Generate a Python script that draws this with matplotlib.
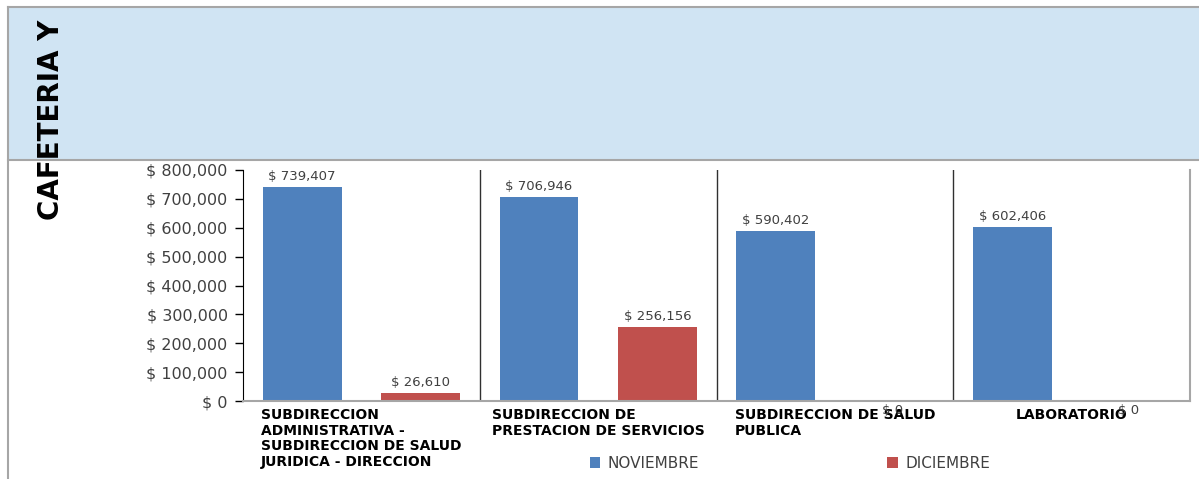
import matplotlib
matplotlib.use('Agg')
import matplotlib.pyplot as plt
from matplotlib.patches import Rectangle, Patch
from matplotlib.lines import Line2D
import numpy as np

categories = ["SUBDIRECCION\nADMINISTRATIVA -\nSUBDIRECCION DE SALUD\nJURIDICA - DIRECCION",
              "SUBDIRECCION DE\nPRESTACION DE SERVICIOS",
              "SUBDIRECCION DE SALUD\nPUBLICA",
              "LABORATORIO"]
noviembre = [739407, 706946, 590402, 602406]
diciembre = [26610, 256156, 0, 0]
series_names = ["NOVIEMBRE", "DICIEMBRE"]
title = "CAFETERIA Y"
yticks = [0, 100000, 200000, 300000, 400000, 500000, 600000, 700000, 800000]

BLUE = '#4F81BD'
RED = '#C0504D'
BAND = '#D0E4F3'
BORDER = '#A6A6A6'
TXT = '#404040'

W, H = 1199, 479
fig = plt.figure(figsize=(W / 100, H / 100), dpi=100)


def fx(px):
    return px / W


def fy(py):
    return 1 - py / H


# light blue band and frame
fig.patches.append(Rectangle((fx(8), fy(160)), fx(1199) - fx(8), fy(7) - fy(160),
                             transform=fig.transFigure, facecolor=BAND,
                             edgecolor='none', zorder=0))
for (x0, y0, x1, y1) in [(8, 7, 1199, 7), (8, 7, 8, 479), (8, 160, 1199, 160)]:
    fig.add_artist(Line2D([fx(x0), fx(x1)], [fy(y0), fy(y1)], transform=fig.transFigure,
                          color=BORDER, lw=1.5, zorder=1))

# vertical title
fig.text(fx(51), fy(220), title, rotation=90, ha='center', va='bottom',
         fontsize=20, fontweight='bold', color='black')

ax = fig.add_axes([fx(243), fy(401), fx(1190) - fx(243), fy(170) - fy(401)])
ax.set_facecolor('none')
x = np.arange(len(categories))
bw = 0.333
b1 = ax.bar(x + 0.25, noviembre, width=bw, color=BLUE, label=series_names[0], zorder=2)
b2 = ax.bar(x + 0.75, diciembre, width=bw, color=RED, label=series_names[1], zorder=2)

ax.set_xlim(0, len(categories))
ax.set_ylim(0, 800000)
ax.set_yticks(yticks)
ax.set_yticklabels([f"$ {v:,.0f}" for v in yticks], fontsize=11.5, color=TXT)
ax.tick_params(axis='y', direction='out', length=6, width=1, color='black', pad=5)

ax.set_xticks(x + 0.5)
ax.set_xticklabels(categories, fontsize=10, fontweight='bold', multialignment='left',
                   va='top', linespacing=1.15)
ax.tick_params(axis='x', length=0, pad=5)

ax.spines['top'].set_visible(False)
ax.spines['left'].set_color('black')
ax.spines['bottom'].set_color(BORDER)
ax.spines['bottom'].set_linewidth(1.5)
ax.spines['right'].set_color(BORDER)
ax.spines['right'].set_linewidth(1.5)

for sep in x[1:]:
    ax.axvline(sep, color='#303030', lw=1, zorder=1)

for bars in (b1, b2):
    for rect in bars:
        v = rect.get_height()
        cx = rect.get_x() + rect.get_width() / 2
        if v == 0:
            ax.annotate(f"$ {v:,.0f}", (cx, 0), xytext=(-2, -10), textcoords='offset pixels',
                        ha='center', va='center', fontsize=9.5, color=TXT, annotation_clip=False)
        else:
            ax.annotate(f"$ {v:,.0f}", (cx, v), xytext=(0, 4), textcoords='offset pixels',
                        ha='center', va='bottom', fontsize=9.5, color=TXT)

handles = [Patch(facecolor=BLUE, label=series_names[0]), Patch(facecolor=RED, label=series_names[1])]
fig.legend(handles=handles, loc='center', bbox_to_anchor=(fx(790), fy(463)), ncol=2,
           frameon=False, fontsize=11, handlelength=0.7, handleheight=0.7,
           handletextpad=0.5, columnspacing=12.3, labelcolor=TXT)

fig.savefig('out.png', dpi=100)
